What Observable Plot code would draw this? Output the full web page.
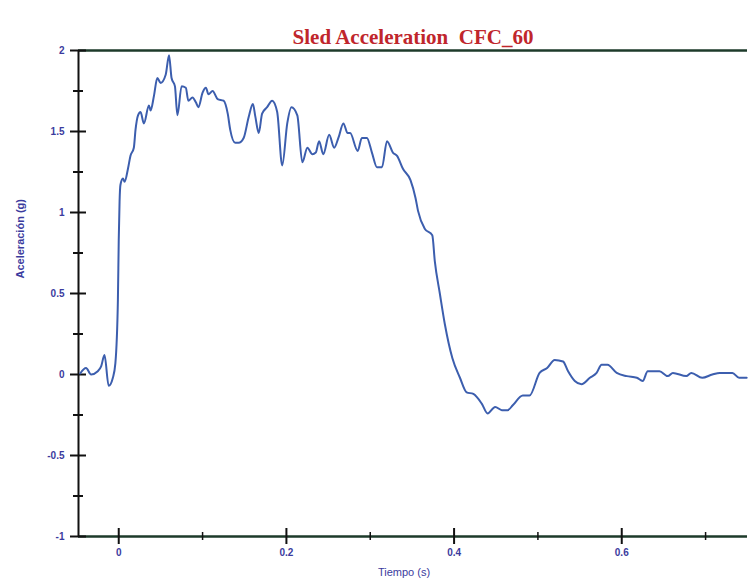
<!DOCTYPE html>
<html>
<head>
<meta charset="utf-8">
<script src="https://cdn.jsdelivr.net/npm/d3@7"></script>
<script src="https://cdn.jsdelivr.net/npm/@observablehq/plot@0.6"></script>
<style>
  html, body { margin: 0; padding: 0; background: #fff; }
</style>
</head>
<body>
<div id="chart"></div>
<script>
const titleText = "Sled Acceleration  CFC_60";
const xLabel = "Tiempo (s)";
const yLabel = "Aceleración (g)";

const time = [
  -0.046, -0.039, -0.033, -0.025, -0.021, -0.017, -0.012, -0.007, -0.004, -0.001,
  0.000, 0.001, 0.002, 0.005, 0.007, 0.011, 0.014, 0.018, 0.020, 0.023,
  0.026, 0.030, 0.036, 0.038, 0.042, 0.046, 0.050, 0.056, 0.060, 0.063,
  0.067, 0.070, 0.075, 0.080, 0.083, 0.088, 0.092, 0.095, 0.100, 0.104,
  0.107, 0.112, 0.118, 0.125, 0.130, 0.133, 0.139, 0.143, 0.149, 0.155,
  0.160, 0.163, 0.167, 0.171, 0.177, 0.183, 0.189, 0.195, 0.201, 0.206,
  0.213, 0.219, 0.225, 0.231, 0.235, 0.239, 0.244, 0.251, 0.257, 0.262,
  0.268, 0.273, 0.276, 0.285, 0.290, 0.296, 0.302, 0.308, 0.314, 0.320,
  0.327, 0.332, 0.339, 0.348, 0.354, 0.357, 0.365, 0.374, 0.377, 0.383,
  0.389, 0.398, 0.407, 0.415, 0.423, 0.433, 0.440, 0.449, 0.457, 0.464,
  0.470, 0.482, 0.490, 0.502, 0.511, 0.520, 0.530, 0.536, 0.544, 0.552,
  0.562, 0.570, 0.576, 0.583, 0.594, 0.606, 0.618, 0.625, 0.631, 0.645,
  0.655, 0.661, 0.677, 0.683, 0.696, 0.708, 0.717, 0.732, 0.740, 0.749
];
const accel = [
  0.006, 0.04, 0.00, 0.02, 0.05, 0.12, -0.07, -0.02, 0.07, 0.46,
  0.83, 1.07, 1.17, 1.21, 1.19, 1.27, 1.35, 1.40, 1.51, 1.60,
  1.62, 1.55, 1.66, 1.63, 1.72, 1.83, 1.80, 1.85, 1.97, 1.83,
  1.78, 1.60, 1.78, 1.77, 1.69, 1.71, 1.68, 1.65, 1.74, 1.77,
  1.73, 1.75, 1.70, 1.69, 1.61, 1.51, 1.43, 1.43, 1.46, 1.59,
  1.67, 1.59, 1.49, 1.61, 1.65, 1.69, 1.62, 1.29, 1.55, 1.65,
  1.60, 1.31, 1.40, 1.36, 1.37, 1.44, 1.36, 1.48, 1.40, 1.46,
  1.55, 1.49, 1.49, 1.38, 1.46, 1.46, 1.37, 1.28, 1.28, 1.44,
  1.37, 1.35, 1.27, 1.20, 1.09, 1.01, 0.90, 0.86, 0.70, 0.50,
  0.31, 0.10, -0.02, -0.11, -0.12, -0.18, -0.24, -0.20, -0.22, -0.22,
  -0.19, -0.13, -0.13, 0.01, 0.04, 0.09, 0.08, 0.02, -0.04, -0.06,
  -0.02, 0.01, 0.06, 0.06, 0.01, -0.01, -0.02, -0.04, 0.02, 0.02,
  -0.01, 0.01, -0.01, 0.01, -0.02, 0.00, 0.01, 0.01, -0.02, -0.02
];

const xDomain = [-0.048, 0.75];
const yDomain = [-1, 2];
const xMajor = [0, 0.2, 0.4, 0.6];
const xMinor = [0.1, 0.3, 0.5, 0.7];
const yMajor = [-1, -0.5, 0, 0.5, 1, 1.5, 2];
const yMinor = [-0.75, -0.25, 0.25, 0.75, 1.25, 1.75];

const data = time.map((t, i) => ({t, a: accel[i]}));

const labelColor = "#3b3b9e";
const axisFont = {fontSize: 10, fontWeight: "bold"};

const chart = Plot.plot({
  width: 748,
  height: 583,
  marginLeft: 78,
  marginRight: 1,
  marginTop: 50,
  marginBottom: 47,
  style: {fontFamily: "Liberation Sans, Arial, sans-serif", background: "#fff", overflow: "visible"},
  x: {domain: xDomain},
  y: {domain: yDomain},
  marks: [
    Plot.ruleY([yDomain[1]], {stroke: "#1d3a2a", strokeWidth: 2.5}),
    Plot.ruleY([yDomain[0]], {stroke: "#1d3a2a", strokeWidth: 2.5}),
    Plot.ruleX([xDomain[0]], {stroke: "#111", strokeWidth: 2}),
    Plot.axisY({ticks: yMajor, tickSize: 16, dx: 8, fill: "none", label: null, stroke: "#111", strokeWidth: 2}),
    Plot.axisY({ticks: yMinor, tickSize: 10, dx: 5, fill: "none", label: null, stroke: "#111", strokeWidth: 2}),
    Plot.axisY({ticks: yMajor, tickSize: 0, tickPadding: 14, label: null, fill: labelColor, tickFormat: d => String(d), ...axisFont}),
    Plot.axisX({ticks: xMajor, tickSize: 16, dy: -8, fill: "none", label: null, stroke: "#111", strokeWidth: 2}),
    Plot.axisX({ticks: xMinor, tickSize: 8, dy: -4, fill: "none", label: null, stroke: "#111", strokeWidth: 1.5}),
    Plot.axisX({ticks: xMajor, tickSize: 0, tickPadding: 12, label: null, fill: labelColor, tickFormat: d => String(d), ...axisFont}),
    Plot.line(data, {x: "t", y: "a", stroke: "#3c5eae", strokeWidth: 2, curve: "monotone-x"}),
    Plot.text([titleText], {frameAnchor: "top", dy: -21, fill: "#c0262c", fontSize: 21, fontWeight: "bold", fontFamily: "Liberation Serif, Times New Roman, serif"}),
    Plot.text([xLabel], {frameAnchor: "bottom", dy: 39, dx: -9, fill: labelColor, fontSize: 11}),
    Plot.text([yLabel], {frameAnchor: "left", dx: -58, dy: -15, rotate: -90, fill: labelColor, fontSize: 11, fontWeight: "bold"})
  ]
});
document.getElementById("chart").appendChild(chart);
</script>
</body>
</html>
